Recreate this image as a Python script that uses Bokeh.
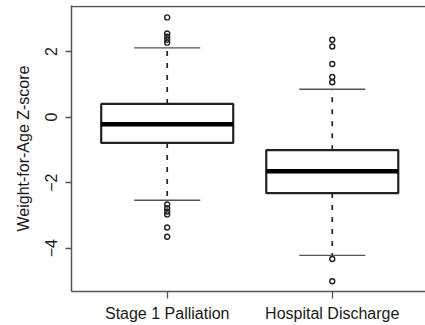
from bokeh.plotting import figure
from bokeh.models import Range1d, FixedTicker, Span, ColumnDataSource
from bokeh.embed import file_html
from bokeh.resources import INLINE

# ---- data ----
categories = ["Stage 1 Palliation", "Hospital Discharge"]
positions = [1, 2]
q1 = [-0.79, -2.32]
median = [-0.22, -1.65]
q3 = [0.40, -1.01]
whisker_low = [-2.54, -4.22]
whisker_high = [2.11, 0.85]
outliers_stage1 = [3.04, 2.55, 2.45, 2.36, 2.27, -2.67, -2.78, -2.88, -2.97, -3.37, -3.65]
outliers_discharge = [2.36, 2.15, 1.62, 1.22, 1.06, -4.33, -5.01]
y_ticks = [-4, -2, 0, 2]

FONT = "Liberation Sans"
BOX_W = 0.8
CAP_W = 0.4

p = figure(width=425, height=325, output_backend="svg", toolbar_location=None,
           x_range=Range1d(0.42, 2.565), y_range=Range1d(-5.322, 3.403),
           min_border_left=71, min_border_right=0, min_border_top=5,
           min_border_bottom=34)
p.outline_line_color = None
p.xgrid.visible = False
p.ygrid.visible = False
p.background_fill_color = "white"
p.border_fill_color = "white"

src = ColumnDataSource(dict(
    x=positions, q1=q1, med=median, q3=q3, lo=whisker_low, hi=whisker_high,
    cap_l=[x - CAP_W / 2 for x in positions], cap_r=[x + CAP_W / 2 for x in positions],
    box_l=[x - BOX_W / 2 for x in positions], box_r=[x + BOX_W / 2 for x in positions],
))
# whiskers (dashed)
p.segment(x0="x", y0="q3", x1="x", y1="hi", source=src, line_color="#222222",
          line_width=1.7, line_dash="5 7")
p.segment(x0="x", y0="q1", x1="x", y1="lo", source=src, line_color="#222222",
          line_width=1.7, line_dash="5 7")
# caps
p.segment(x0="cap_l", y0="hi", x1="cap_r", y1="hi", source=src, line_color="#555555", line_width=1.4)
p.segment(x0="cap_l", y0="lo", x1="cap_r", y1="lo", source=src, line_color="#555555", line_width=1.4)
# box
p.quad(left="box_l", right="box_r", bottom="q1", top="q3", source=src,
       fill_color="white", line_color="#222222", line_width=2.2)
# median
p.segment(x0="box_l", y0="med", x1="box_r", y1="med", source=src, line_color="black", line_width=4.5)

# outliers
ox = [positions[0]] * len(outliers_stage1) + [positions[1]] * len(outliers_discharge)
oy = outliers_stage1 + outliers_discharge
p.scatter(ox, oy, marker="circle", size=5, fill_color=None, line_color="#222222", line_width=1.4)

# top frame line
p.add_layout(Span(location=3.372, dimension="width", line_color="#555555", line_width=1.5))

# y axis
yax = p.yaxis[0]
yax.ticker = FixedTicker(ticks=y_ticks)
yax.minor_tick_line_color = None
yax.major_tick_out = 6
yax.major_tick_in = 0
yax.major_tick_line_color = "#555555"
yax.major_tick_line_width = 1.3
yax.axis_line_color = "#555555"
yax.axis_line_width = 1.5
yax.major_label_orientation = "vertical"
yax.major_label_text_font = FONT
yax.major_label_text_font_size = "16px"
yax.major_label_text_color = "#1a1a1a"
yax.major_label_standoff = 8
yax.axis_label = "Weight-for-Age Z-score"
yax.axis_label_text_font = FONT
yax.axis_label_text_font_size = "16px"
yax.axis_label_text_font_style = "normal"
yax.axis_label_text_color = "#1a1a1a"
yax.axis_label_standoff = 11

# x axis
xax = p.xaxis[0]
xax.ticker = FixedTicker(ticks=positions)
xax.major_label_overrides = {pos: cat for pos, cat in zip(positions, categories)}
xax.minor_tick_line_color = None
xax.major_tick_out = 7
xax.major_tick_in = 0
xax.major_tick_line_color = "#555555"
xax.major_tick_line_width = 1.3
xax.axis_line_color = "#555555"
xax.axis_line_width = 1.5
xax.major_label_text_font = FONT
xax.major_label_text_font_size = "16px"
xax.major_label_text_color = "#1a1a1a"
xax.major_label_standoff = 6

open("out.html", "w").write(file_html(p, INLINE))
